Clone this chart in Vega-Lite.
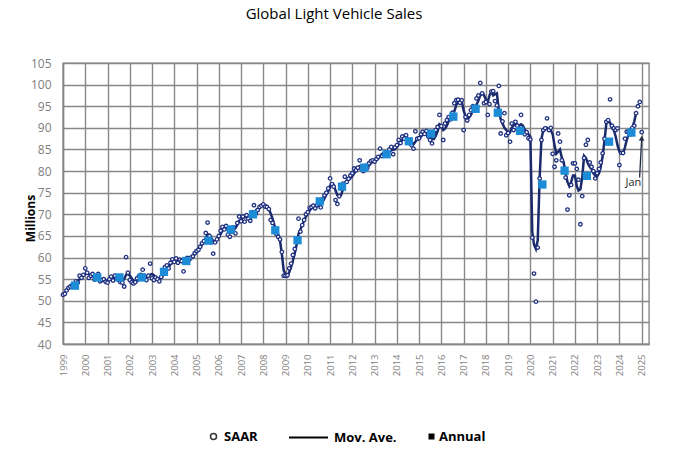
{
"$schema": "https://vega.github.io/schema/vega-lite/v6.json",
"width": 586, "height": 281,
"autosize": "none",
"padding": {"left": 63, "top": 63, "right": 27, "bottom": 120},
"background": "white",
"title": {"text": "Global Light Vehicle Sales", "font": "Open Sans", "fontSize": 15, "fontWeight": "normal", "color": "black", "anchor": "middle", "frame": "group", "dx": -22, "baseline": "alphabetic", "offset": 23},
"config": {
 "view": {"stroke": "#888888", "strokeWidth": 1.4},
 "axisX": {"grid": true, "gridColor": "#888888", "gridWidth": 1.4, "domainColor": "#888888", "domainWidth": 1.4, "ticks": false, "labelAngle": -90, "labelAlign": "right", "labelBaseline": "middle", "labelFont": "Open Sans", "labelFontSize": 9.5, "labelColor": "#808080", "labelPadding": 10, "labelFlush": false, "labelOverlap": false, "labelBound": false},
 "axisY": {"grid": true, "gridColor": "#888888", "gridWidth": 1.4, "domainColor": "#888888", "domainWidth": 1.4, "ticks": false, "labelFont": "Open Sans", "labelFontSize": 12, "labelColor": "#808080", "labelPadding": 12, "labelFlush": false, "labelOverlap": false, "labelBound": false, "titleFont": "Open Sans", "titleFontSize": 12, "titleFontWeight": "bold", "titleColor": "black"},
 "legend": {"title": null, "orient": "none", "padding": 0, "labelFont": "Open Sans", "labelFontSize": 13, "labelFontWeight": "bold", "labelColor": "black"}
},
"datasets": {
"m": [
{"d":"1999-01","s":51.4,"a":51.5},{"d":"1999-02","s":51.6,"a":51.8},{"d":"1999-03","s":52.4,"a":52.3},{"d":"1999-04","s":53.0,"a":52.8},{"d":"1999-05","s":53.3,"a":53.2},{"d":"1999-06","s":53.6,"a":53.5},{"d":"1999-07","s":53.5,"a":53.8},{"d":"1999-08","s":54.5,"a":54.2},{"d":"1999-09","s":54.2,"a":54.6},{"d":"1999-10","s":55.8,"a":55.0},{"d":"1999-11","s":55.3,"a":55.5},{"d":"1999-12","s":56.0,"a":55.9},
{"d":"2000-01","s":57.5,"a":56.2},{"d":"2000-02","s":56.5,"a":56.3},{"d":"2000-03","s":55.3,"a":56.1},{"d":"2000-04","s":55.8,"a":55.9},{"d":"2000-05","s":56.2,"a":55.7},{"d":"2000-06","s":54.9,"a":55.5},{"d":"2000-07","s":55.5,"a":55.3},{"d":"2000-08","s":56.2,"a":55.2},{"d":"2000-09","s":54.5,"a":55.1},{"d":"2000-10","s":54.8,"a":55.0},{"d":"2000-11","s":55.0,"a":54.8},{"d":"2000-12","s":54.4,"a":54.7},
{"d":"2001-01","s":54.2,"a":54.6},{"d":"2001-02","s":55.0,"a":54.8},{"d":"2001-03","s":55.6,"a":55.0},{"d":"2001-04","s":54.7,"a":55.2},{"d":"2001-05","s":55.8,"a":55.3},{"d":"2001-06","s":55.3,"a":55.3},{"d":"2001-07","s":54.8,"a":55.1},{"d":"2001-08","s":54.3,"a":54.8},{"d":"2001-09","s":54.2,"a":54.5},{"d":"2001-10","s":53.3,"a":55.0},{"d":"2001-11","s":60.1,"a":56.0},{"d":"2001-12","s":56.5,"a":56.2},
{"d":"2002-01","s":54.8,"a":55.8},{"d":"2002-02","s":54.3,"a":55.2},{"d":"2002-03","s":54.0,"a":54.6},{"d":"2002-04","s":54.3,"a":54.3},{"d":"2002-05","s":55.2,"a":54.5},{"d":"2002-06","s":55.7,"a":55.0},{"d":"2002-07","s":56.0,"a":55.6},{"d":"2002-08","s":57.2,"a":56.0},{"d":"2002-09","s":55.5,"a":56.0},{"d":"2002-10","s":54.8,"a":55.6},{"d":"2002-11","s":55.8,"a":55.6},{"d":"2002-12","s":58.6,"a":56.0},
{"d":"2003-01","s":55.2,"a":56.2},{"d":"2003-02","s":54.8,"a":55.9},{"d":"2003-03","s":55.4,"a":55.3},{"d":"2003-04","s":55.0,"a":55.0},{"d":"2003-05","s":54.5,"a":55.0},{"d":"2003-06","s":55.5,"a":55.3},{"d":"2003-07","s":56.5,"a":55.9},{"d":"2003-08","s":57.8,"a":56.7},{"d":"2003-09","s":58.2,"a":57.4},{"d":"2003-10","s":57.5,"a":57.9},{"d":"2003-11","s":58.8,"a":58.4},{"d":"2003-12","s":59.6,"a":58.8},
{"d":"2004-01","s":59.0,"a":59.1},{"d":"2004-02","s":59.8,"a":59.3},{"d":"2004-03","s":58.8,"a":59.3},{"d":"2004-04","s":59.5,"a":59.2},{"d":"2004-05","s":59.2,"a":59.0},{"d":"2004-06","s":56.8,"a":58.8},{"d":"2004-07","s":59.4,"a":58.8},{"d":"2004-08","s":59.9,"a":59.2},{"d":"2004-09","s":59.5,"a":59.6},{"d":"2004-10","s":60.0,"a":59.9},{"d":"2004-11","s":60.3,"a":60.3},{"d":"2004-12","s":61.0,"a":60.8},
{"d":"2005-01","s":61.5,"a":61.3},{"d":"2005-02","s":61.8,"a":61.8},{"d":"2005-03","s":62.5,"a":62.4},{"d":"2005-04","s":63.3,"a":63.0},{"d":"2005-05","s":63.8,"a":63.6},{"d":"2005-06","s":65.7,"a":64.5},{"d":"2005-07","s":68.1,"a":65.4},{"d":"2005-08","s":65.0,"a":65.2},{"d":"2005-09","s":63.5,"a":64.6},{"d":"2005-10","s":60.9,"a":63.8},{"d":"2005-11","s":63.5,"a":63.5},{"d":"2005-12","s":64.2,"a":64.1},
{"d":"2006-01","s":65.0,"a":64.8},{"d":"2006-02","s":66.2,"a":65.5},{"d":"2006-03","s":67.1,"a":66.2},{"d":"2006-04","s":66.5,"a":66.6},{"d":"2006-05","s":67.3,"a":66.9},{"d":"2006-06","s":65.3,"a":66.4},{"d":"2006-07","s":64.8,"a":65.8},{"d":"2006-08","s":66.8,"a":65.7},{"d":"2006-09","s":67.0,"a":66.3},{"d":"2006-10","s":65.6,"a":66.8},{"d":"2006-11","s":68.0,"a":67.6},{"d":"2006-12","s":69.5,"a":68.5},
{"d":"2007-01","s":68.4,"a":68.8},{"d":"2007-02","s":69.5,"a":69.2},{"d":"2007-03","s":68.3,"a":69.3},{"d":"2007-04","s":69.8,"a":69.3},{"d":"2007-05","s":69.0,"a":69.1},{"d":"2007-06","s":68.5,"a":69.0},{"d":"2007-07","s":70.5,"a":69.5},{"d":"2007-08","s":72.1,"a":70.3},{"d":"2007-09","s":70.2,"a":70.9},{"d":"2007-10","s":71.0,"a":71.2},{"d":"2007-11","s":71.7,"a":71.6},{"d":"2007-12","s":72.0,"a":71.9},
{"d":"2008-01","s":72.3,"a":72.1},{"d":"2008-02","s":71.8,"a":72.1},{"d":"2008-03","s":71.7,"a":71.9},{"d":"2008-04","s":71.2,"a":71.2},{"d":"2008-05","s":68.7,"a":70.2},{"d":"2008-06","s":68.0,"a":69.0},{"d":"2008-07","s":66.3,"a":67.5},{"d":"2008-08","s":65.5,"a":66.3},{"d":"2008-09","s":64.8,"a":65.4},{"d":"2008-10","s":64.2,"a":64.0},{"d":"2008-11","s":61.3,"a":60.8},{"d":"2008-12","s":55.8,"a":57.0},
{"d":"2009-01","s":55.8,"a":56.2},{"d":"2009-02","s":55.9,"a":55.8},{"d":"2009-03","s":57.5,"a":56.6},{"d":"2009-04","s":58.6,"a":57.8},{"d":"2009-05","s":60.6,"a":59.3},{"d":"2009-06","s":62.0,"a":61.0},{"d":"2009-07","s":64.0,"a":63.0},{"d":"2009-08","s":69.0,"a":65.5},{"d":"2009-09","s":66.0,"a":66.5},{"d":"2009-10","s":67.5,"a":67.5},{"d":"2009-11","s":68.7,"a":68.5},{"d":"2009-12","s":70.0,"a":69.5},
{"d":"2010-01","s":70.5,"a":70.2},{"d":"2010-02","s":71.5,"a":70.9},{"d":"2010-03","s":71.7,"a":71.4},{"d":"2010-04","s":72.0,"a":71.7},{"d":"2010-05","s":71.4,"a":71.8},{"d":"2010-06","s":72.1,"a":71.9},{"d":"2010-07","s":72.5,"a":72.1},{"d":"2010-08","s":71.6,"a":72.3},{"d":"2010-09","s":73.5,"a":72.9},{"d":"2010-10","s":74.4,"a":73.7},{"d":"2010-11","s":75.0,"a":74.6},{"d":"2010-12","s":76.0,"a":75.3},
{"d":"2011-01","s":78.3,"a":76.6},{"d":"2011-02","s":77.0,"a":77.0},{"d":"2011-03","s":76.4,"a":76.8},{"d":"2011-04","s":73.3,"a":75.5},{"d":"2011-05","s":72.4,"a":74.4},{"d":"2011-06","s":74.2,"a":74.0},{"d":"2011-07","s":76.0,"a":74.5},{"d":"2011-08","s":77.1,"a":75.8},{"d":"2011-09","s":78.7,"a":77.2},{"d":"2011-10","s":77.5,"a":77.8},{"d":"2011-11","s":78.2,"a":78.0},{"d":"2011-12","s":79.0,"a":78.3},
{"d":"2012-01","s":79.5,"a":78.8},{"d":"2012-02","s":80.6,"a":79.5},{"d":"2012-03","s":80.2,"a":80.1},{"d":"2012-04","s":80.8,"a":80.5},{"d":"2012-05","s":82.5,"a":81.2},{"d":"2012-06","s":80.4,"a":81.2},{"d":"2012-07","s":80.0,"a":80.9},{"d":"2012-08","s":81.2,"a":80.5},{"d":"2012-09","s":80.7,"a":80.8},{"d":"2012-10","s":81.8,"a":81.3},{"d":"2012-11","s":82.3,"a":81.8},{"d":"2012-12","s":82.5,"a":82.2},
{"d":"2013-01","s":82.2,"a":82.4},{"d":"2013-02","s":82.8,"a":82.6},{"d":"2013-03","s":83.3,"a":82.9},{"d":"2013-04","s":85.2,"a":83.5},{"d":"2013-05","s":83.5,"a":84.0},{"d":"2013-06","s":83.8,"a":84.1},{"d":"2013-07","s":84.3,"a":84.0},{"d":"2013-08","s":84.0,"a":84.1},{"d":"2013-09","s":85.0,"a":84.4},{"d":"2013-10","s":85.6,"a":84.8},{"d":"2013-11","s":83.9,"a":84.9},{"d":"2013-12","s":85.5,"a":85.0},
{"d":"2014-01","s":86.0,"a":85.5},{"d":"2014-02","s":87.2,"a":86.2},{"d":"2014-03","s":86.5,"a":86.6},{"d":"2014-04","s":88.0,"a":87.2},{"d":"2014-05","s":87.5,"a":87.4},{"d":"2014-06","s":88.3,"a":87.8},{"d":"2014-07","s":87.0,"a":87.6},{"d":"2014-08","s":86.5,"a":87.0},{"d":"2014-09","s":86.0,"a":86.5},{"d":"2014-10","s":85.2,"a":86.2},{"d":"2014-11","s":89.2,"a":86.8},{"d":"2014-12","s":87.5,"a":87.3},
{"d":"2015-01","s":87.6,"a":87.5},{"d":"2015-02","s":88.5,"a":88.0},{"d":"2015-03","s":89.1,"a":88.4},{"d":"2015-04","s":88.6,"a":88.7},{"d":"2015-05","s":89.3,"a":89.0},{"d":"2015-06","s":88.0,"a":88.7},{"d":"2015-07","s":87.2,"a":88.2},{"d":"2015-08","s":86.4,"a":87.4},{"d":"2015-09","s":88.8,"a":87.4},{"d":"2015-10","s":89.5,"a":88.1},{"d":"2015-11","s":90.2,"a":89.2},{"d":"2015-12","s":93.0,"a":90.8},
{"d":"2016-01","s":90.4,"a":90.5},{"d":"2016-02","s":87.2,"a":89.5},{"d":"2016-03","s":91.0,"a":89.8},{"d":"2016-04","s":91.8,"a":90.5},{"d":"2016-05","s":92.5,"a":91.6},{"d":"2016-06","s":92.0,"a":92.1},{"d":"2016-07","s":93.5,"a":92.7},{"d":"2016-08","s":95.7,"a":93.8},{"d":"2016-09","s":96.4,"a":95.2},{"d":"2016-10","s":96.5,"a":96.2},{"d":"2016-11","s":95.8,"a":96.2},{"d":"2016-12","s":96.4,"a":96.2},
{"d":"2017-01","s":89.5,"a":94.0},{"d":"2017-02","s":92.5,"a":92.7},{"d":"2017-03","s":91.7,"a":91.9},{"d":"2017-04","s":93.0,"a":92.4},{"d":"2017-05","s":94.1,"a":93.0},{"d":"2017-06","s":95.0,"a":94.0},{"d":"2017-07","s":94.5,"a":94.5},{"d":"2017-08","s":96.8,"a":95.4},{"d":"2017-09","s":97.5,"a":96.3},{"d":"2017-10","s":100.4,"a":97.5},{"d":"2017-11","s":98.0,"a":98.0},{"d":"2017-12","s":95.7,"a":97.6},
{"d":"2018-01","s":96.0,"a":96.5},{"d":"2018-02","s":93.0,"a":96.0},{"d":"2018-03","s":95.5,"a":97.5},{"d":"2018-04","s":98.4,"a":98.4},{"d":"2018-05","s":98.5,"a":97.5},{"d":"2018-06","s":96.2,"a":97.8},{"d":"2018-07","s":95.2,"a":98.0},{"d":"2018-08","s":99.7,"a":94.0},{"d":"2018-09","s":88.7,"a":92.0},{"d":"2018-10","s":91.5,"a":91.0},{"d":"2018-11","s":93.4,"a":90.0},{"d":"2018-12","s":88.3,"a":89.5},
{"d":"2019-01","s":88.8,"a":89.0},{"d":"2019-02","s":86.8,"a":89.0},{"d":"2019-03","s":91.0,"a":90.0},{"d":"2019-04","s":89.5,"a":90.6},{"d":"2019-05","s":91.4,"a":90.8},{"d":"2019-06","s":90.5,"a":90.8},{"d":"2019-07","s":89.5,"a":90.5},{"d":"2019-08","s":93.0,"a":90.8},{"d":"2019-09","s":89.5,"a":90.5},{"d":"2019-10","s":88.5,"a":89.5},{"d":"2019-11","s":89.0,"a":89.2},{"d":"2019-12","s":87.6,"a":88.5},
{"d":"2020-01","s":87.3,"a":88.0},{"d":"2020-02","s":64.6,"a":66.0},{"d":"2020-03","s":56.3,"a":63.0},{"d":"2020-04","s":49.8,"a":62.0},{"d":"2020-05","s":62.3,"a":64.0},{"d":"2020-06","s":78.3,"a":78.3},{"d":"2020-07","s":87.2,"a":87.5},{"d":"2020-08","s":89.5,"a":89.5},{"d":"2020-09","s":89.9,"a":90.0},{"d":"2020-10","s":92.2,"a":90.0},{"d":"2020-11","s":89.5,"a":89.5},{"d":"2020-12","s":90.0,"a":89.5},
{"d":"2021-01","s":84.0,"a":88.5},{"d":"2021-02","s":81.0,"a":86.0},{"d":"2021-03","s":82.5,"a":84.0},{"d":"2021-04","s":88.7,"a":84.5},{"d":"2021-05","s":86.8,"a":85.0},{"d":"2021-06","s":82.5,"a":83.0},{"d":"2021-07","s":80.5,"a":82.0},{"d":"2021-08","s":78.5,"a":79.5},{"d":"2021-09","s":71.1,"a":77.5},{"d":"2021-10","s":74.4,"a":76.5},{"d":"2021-11","s":76.8,"a":77.5},{"d":"2021-12","s":81.8,"a":79.0},
{"d":"2022-01","s":81.8,"a":79.0},{"d":"2022-02","s":80.5,"a":76.5},{"d":"2022-03","s":78.0,"a":75.5},{"d":"2022-04","s":67.7,"a":75.8},{"d":"2022-05","s":74.2,"a":78.5},{"d":"2022-06","s":83.0,"a":83.5},{"d":"2022-07","s":86.1,"a":83.0},{"d":"2022-08","s":87.2,"a":81.8},{"d":"2022-09","s":82.0,"a":81.0},{"d":"2022-10","s":81.0,"a":80.5},{"d":"2022-11","s":80.0,"a":79.5},{"d":"2022-12","s":78.3,"a":79.0},
{"d":"2023-01","s":79.5,"a":78.8},{"d":"2023-02","s":80.5,"a":79.5},{"d":"2023-03","s":82.0,"a":81.0},{"d":"2023-04","s":84.1,"a":83.5},{"d":"2023-05","s":87.5,"a":87.0},{"d":"2023-06","s":91.4,"a":91.0},{"d":"2023-07","s":91.8,"a":91.5},{"d":"2023-08","s":96.6,"a":91.2},{"d":"2023-09","s":90.5,"a":90.0},{"d":"2023-10","s":89.9,"a":89.5},{"d":"2023-11","s":89.5,"a":88.0},{"d":"2023-12","s":89.9,"a":86.0},
{"d":"2024-01","s":81.4,"a":84.5},{"d":"2024-02","s":84.2,"a":84.2},{"d":"2024-03","s":84.2,"a":84.0},{"d":"2024-04","s":87.5,"a":85.5},{"d":"2024-05","s":89.1,"a":87.2},{"d":"2024-06","s":89.0,"a":88.5},{"d":"2024-07","s":88.5,"a":89.8},{"d":"2024-08","s":90.0,"a":90.0},{"d":"2024-09","s":90.5,"a":91.5},{"d":"2024-10","s":93.4,"a":93.4},{"d":"2024-11","s":95.0},{"d":"2024-12","s":96.0},
{"d":"2025-01","s":89.0}
],
"yr": [
{"d":"1999-07-16","v":53.5},{"d":"2000-07-16","v":55.4},{"d":"2001-07-16","v":55.4},{"d":"2002-07-16","v":55.4},{"d":"2003-07-16","v":56.7},{"d":"2004-07-16","v":59.2},{"d":"2005-07-16","v":63.9},{"d":"2006-07-16","v":66.5},{"d":"2007-07-16","v":70.0},{"d":"2008-07-16","v":66.3},{"d":"2009-07-16","v":64.0},{"d":"2010-07-16","v":73.0},{"d":"2011-07-16","v":76.4},{"d":"2012-07-16","v":80.8},{"d":"2013-07-16","v":83.9},{"d":"2014-07-16","v":86.9},{"d":"2015-07-16","v":88.7},{"d":"2016-07-16","v":92.6},{"d":"2017-07-16","v":94.4},{"d":"2018-07-16","v":93.5},{"d":"2019-07-16","v":89.3},{"d":"2020-07-16","v":76.9},{"d":"2021-07-16","v":80.1},{"d":"2022-07-16","v":78.9},{"d":"2023-07-16","v":86.8},{"d":"2024-07-16","v":88.9}
],
"arrow": [{"d":"2024-11-28","v":78.5,"d2":"2025-01-01","v2":87.6}],
"head": [{"d":"2025-01-01","v":87.6}],
"lbl": [{"d":"2024-08-18","v":76.5,"t":"Jan"}],
"none": []
},
"encoding": {
 "x": {"field": "d", "type": "temporal", "scale": {"type": "utc", "domain": [{"year":1999,"month":1,"date":1,"utc":true},{"year":2025,"month":5,"date":1,"utc":true}]},
  "axis": {"title": null, "format": "%Y", "values": [{"year":1999,"utc":true},{"year":2000,"utc":true},{"year":2001,"utc":true},{"year":2002,"utc":true},{"year":2003,"utc":true},{"year":2004,"utc":true},{"year":2005,"utc":true},{"year":2006,"utc":true},{"year":2007,"utc":true},{"year":2008,"utc":true},{"year":2009,"utc":true},{"year":2010,"utc":true},{"year":2011,"utc":true},{"year":2012,"utc":true},{"year":2013,"utc":true},{"year":2014,"utc":true},{"year":2015,"utc":true},{"year":2016,"utc":true},{"year":2017,"utc":true},{"year":2018,"utc":true},{"year":2019,"utc":true},{"year":2020,"utc":true},{"year":2021,"utc":true},{"year":2022,"utc":true},{"year":2023,"utc":true},{"year":2024,"utc":true},{"year":2025,"utc":true}]}},
 "y": {"field": "v", "type": "quantitative", "scale": {"domain": [40, 105], "nice": false, "zero": false},
  "axis": {"title": "Millions", "titleAngle": -90, "titleAlign": "center", "titleBaseline": "middle", "titleX": -33, "titleY": 155, "values": [40,45,50,55,60,65,70,75,80,85,90,95,100,105]}}
},
"layer": [
{"data": {"name": "m"},
 "mark": {"type": "line", "color": "#1B2A6B", "strokeWidth": 2.5},
 "encoding": {
  "y": {"field": "a", "type": "quantitative", "scale": {"domain": [40, 105], "nice": false, "zero": false},
   "axis": {"title": "Millions", "titleAngle": -90, "titleAlign": "center", "titleBaseline": "middle", "titleX": -33, "titleY": 155, "values": [40,45,50,55,60,65,70,75,80,85,90,95,100,105]}}
 }},
{"data": {"name": "m"},
 "mark": {"type": "point", "fill": "white", "stroke": "#1F2F80", "strokeWidth": 1.3, "size": 12, "opacity": 1, "fillOpacity": 1},
 "encoding": {
  "y": {"field": "s", "type": "quantitative", "scale": {"domain": [40, 105], "nice": false, "zero": false},
   "axis": {"title": "Millions", "titleAngle": -90, "titleAlign": "center", "titleBaseline": "middle", "titleX": -33, "titleY": 155, "values": [40,45,50,55,60,65,70,75,80,85,90,95,100,105]}}
 }},
{"data": {"name": "yr"},
 "mark": {"type": "point", "shape": "square", "filled": true, "color": "#1C8CD6", "size": 69, "opacity": 1}},
{"data": {"name": "arrow"},
 "mark": {"type": "rule", "color": "#1F2A44", "strokeWidth": 1.3},
 "encoding": {"x2": {"field": "d2"}, "y2": {"field": "v2"}}},
{"data": {"name": "head"},
 "mark": {"type": "point", "shape": "triangle-up", "filled": true, "color": "#1F2A44", "size": 30, "angle": 3, "opacity": 1},
 "encoding": {}},
{"data": {"name": "lbl"},
 "mark": {"type": "text", "font": "Open Sans", "fontSize": 11, "color": "#262626", "align": "center", "baseline": "alphabetic"},
 "encoding": {"text": {"field": "t"}}},
{"data": {"name": "none"},
 "mark": {"type": "point", "filled": false, "color": "#333333", "strokeWidth": 0.8, "opacity": 1},
 "encoding": {"shape": {"datum": "SAAR", "scale": {"range": ["circle"]}, "legend": {"legendX": 144, "legendY": 367, "symbolSize": 36, "labelOffset": 4}}}},
{"data": {"name": "none"},
 "mark": {"type": "line", "color": "black", "strokeWidth": 2},
 "encoding": {"strokeDash": {"datum": "Mov. Ave.", "scale": {"range": [[1, 0]]}, "legend": {"legendX": 225, "legendY": 354, "symbolType": "stroke", "symbolSize": 1521, "symbolStrokeWidth": 2, "labelOffset": 5}}}},
{"data": {"name": "none"},
 "mark": {"type": "point", "filled": true, "color": "black", "opacity": 1},
 "encoding": {"shape": {"datum": "Annual", "scale": {"range": ["square"]}, "legend": {"legendX": 362, "legendY": 367, "symbolSize": 36, "labelOffset": 1}}}}
],
"resolve": {"scale": {"shape": "independent"}, "legend": {"shape": "independent"}}
}
